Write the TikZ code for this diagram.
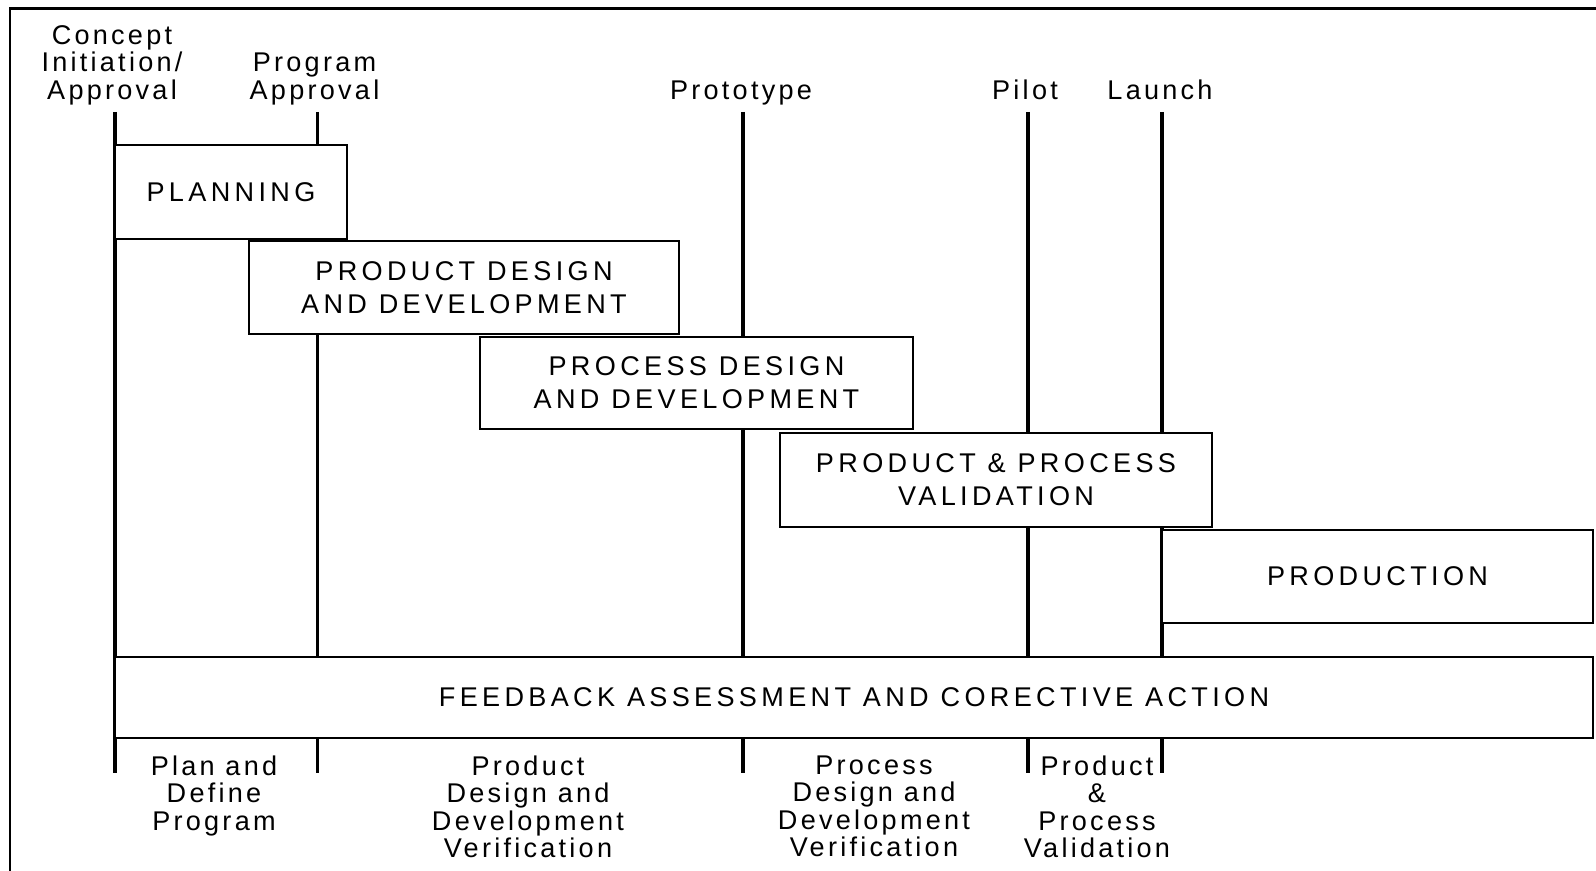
\documentclass[tikz,border=0pt]{standalone}
\usepackage{fontspec}
\usepackage{xcolor}
\usepackage{tikz}
\newfontfamily\phasefont{Liberation Sans}[LetterSpace=16]
\newfontfamily\gatefont{Liberation Sans}[LetterSpace=12]

\begin{document}
\begin{tikzpicture}[x=0.01cm, y=-0.01cm,
  milestone/.style={line width=1.1pt},
  phasebox/.style={draw, rectangle, fill=white, line width=0.6pt, inner sep=0pt, align=center,
    font=\phasefont\fontsize{7.7pt}{9.4pt}\selectfont},
  gatelabel/.style={anchor=south, inner sep=0pt, text depth=0pt, align=center,
    font=\gatefont\fontsize{7.7pt}{7.8pt}\selectfont},
  steplabel/.style={anchor=north, inner sep=0pt, align=center,
    font=\gatefont\fontsize{7.7pt}{7.8pt}\selectfont}]%
\useasboundingbox (0,0) rectangle (1596,871);%
\draw[line width=0.8pt] (10,871) -- (10,8.5) -- (1596,8.5);%
% milestones
\node[gatelabel] (concept) at (112,100) {Concept\\Initiation/\\Approval};%
\node[gatelabel] (program) at (314.5,100) {Program\\Approval};%
\node[gatelabel] (prototype) at (741,100) {Prototype};%
\node[gatelabel] (pilot) at (1025,100) {Pilot};%
\node[gatelabel] (launch) at (1160,100) {Launch};%
\coordinate (concept top) at (115,112);%
\coordinate (concept bottom) at (115,773);%
\coordinate (program top) at (317.5,112);%
\coordinate (program bottom) at (317.5,773);%
\coordinate (prototype top) at (743,112);%
\coordinate (prototype bottom) at (743,773);%
\coordinate (pilot top) at (1028,112);%
\coordinate (pilot bottom) at (1028,773);%
\coordinate (launch top) at (1162,112);%
\coordinate (launch bottom) at (1162,773);%
\draw[milestone] (concept top) -- (concept bottom);%
\draw[milestone] (program top) -- (program bottom);%
\draw[milestone] (prototype top) -- (prototype bottom);%
\draw[milestone] (pilot top) -- (pilot bottom);%
\draw[milestone] (launch top) -- (launch bottom);%
% phases
\node[phasebox, minimum width=2.32cm, minimum height=0.94cm] (planning) at (231,192) {PLANNING};%
\node[phasebox, minimum width=4.30cm, minimum height=0.93cm] (productdesign) at (464,287.5) {PRODUCT DESIGN\\AND DEVELOPMENT};%
\node[phasebox, minimum width=4.33cm, minimum height=0.92cm] (processdesign) at (696.5,383) {PROCESS DESIGN\\AND DEVELOPMENT};%
\node[phasebox, minimum width=4.32cm, minimum height=0.94cm] (validation) at (996,480) {PRODUCT \& PROCESS\\VALIDATION};%
\node[phasebox, minimum width=4.31cm, minimum height=0.93cm] (production) at (1377.5,576.5) {PRODUCTION};%
\node[phasebox, minimum width=14.78cm, minimum height=0.81cm] (feedback) at (854,697.5) {FEEDBACK ASSESSMENT AND CORECTIVE ACTION};%
% steps
\node[steplabel] (plandefine) at (214,755) {Plan and\\Define\\Program};%
\node[steplabel] (productverif) at (528,755) {Product\\Design and\\Development\\Verification};%
\node[steplabel] (processverif) at (874,755) {Process\\Design and\\Development\\Verification};%
\node[steplabel] (validationstep) at (1097,755) {Product\\\&\\Process\\Validation};%
\end{tikzpicture}
\end{document}
